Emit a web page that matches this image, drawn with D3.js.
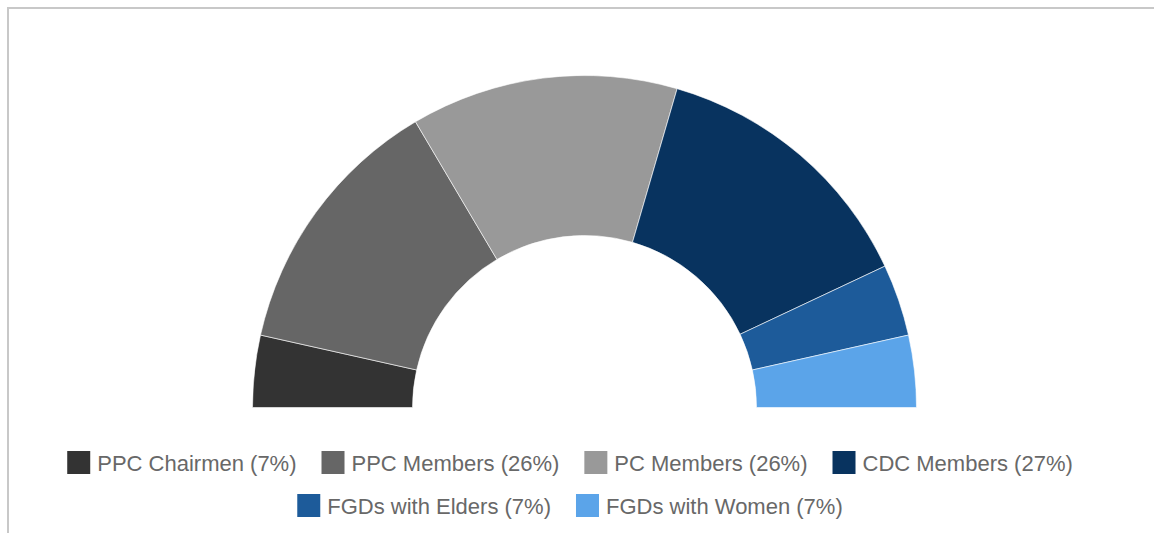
<!DOCTYPE html>
<html>
<head>
<meta charset="utf-8">
<script src="https://cdn.jsdelivr.net/npm/d3@7"></script>
<style>
  html, body { margin: 0; padding: 0; background: #fff; }
  svg { display: block; }
  .legend text { font-family: "Liberation Sans", Arial, sans-serif; }
</style>
</head>
<body>
<svg id="chart" width="1154" height="533"></svg>
<script>
// Share of interviews by respondent group
const groups = ["PPC Chairmen", "PPC Members", "PC Members", "CDC Members", "FGDs with Elders", "FGDs with Women"];
const shares = [7, 26, 26, 27, 7, 7];
const colors = ["#333333", "#666666", "#999999", "#08335f", "#1d5b9a", "#5ba4e9"];

const W = 1154, H = 533;
const svg = d3.select("#chart");

// frame lines along the top and left edges
svg.append("path")
  .attr("d", `M8,${H} V8 H${W}`)
  .attr("fill", "none")
  .attr("stroke", "#c8c8c8")
  .attr("stroke-width", 2);

// half-donut
const cx = 584.5, cy = 407.5, rOuter = 332, rInner = 172;
const data = groups.map((g, i) => ({ name: g, value: shares[i], color: colors[i] }));

const pie = d3.pie()
  .value(d => d.value)
  .sort(null)
  .startAngle(-Math.PI / 2)
  .endAngle(Math.PI / 2);

const arc = d3.arc().innerRadius(rInner).outerRadius(rOuter);

svg.append("g")
  .attr("transform", `translate(${cx},${cy})`)
  .selectAll("path")
  .data(pie(data))
  .join("path")
  .attr("d", arc)
  .attr("fill", d => d.data.color)
  .attr("stroke", "#ffffff")
  .attr("stroke-width", 0.6);

// legend: two centred rows
const rows = [[0, 1, 2, 3], [4, 5]];
const fontSize = 22, sw = 23, swGap = 7, itemGap = 25;
const legendCx = 570;
const rowBaselines = [470.5, 513.5];

const legend = svg.append("g")
  .attr("class", "legend")
  .attr("font-size", fontSize)
  .attr("fill", "#686868");

rows.forEach((row, ri) => {
  const g = legend.append("g");
  let x = 0;
  row.forEach(i => {
    const d = data[i];
    const item = g.append("g").attr("transform", `translate(${x},0)`);
    item.append("rect")
      .attr("x", 0)
      .attr("y", rowBaselines[ri] - 19.5)
      .attr("width", sw)
      .attr("height", sw)
      .attr("fill", d.color);
    const t = item.append("text")
      .attr("x", sw + swGap)
      .attr("y", rowBaselines[ri])
      .text(`${d.name} (${d.value}%)`);
    x += sw + swGap + t.node().getComputedTextLength() + itemGap;
  });
  const total = x - itemGap;
  g.attr("transform", `translate(${legendCx - total / 2},0)`);
});
</script>
</body>
</html>
